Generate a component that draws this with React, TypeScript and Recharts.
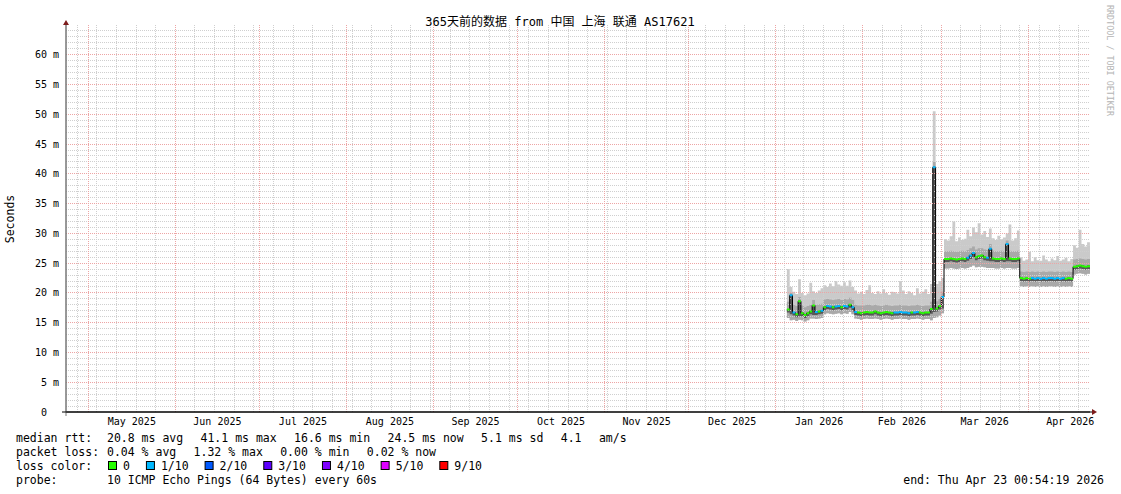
import React from 'react';
import { ComposedChart, Area, Line, XAxis, YAxis, ReferenceLine } from 'recharts';

// ---------- data ----------
const endTime = '2026-04-23T00:54:19Z';
const spanDays = 365;
const firstDataDay = '2026-01-05';

const monthStarts = [
  '2025-05-01', '2025-06-01', '2025-07-01', '2025-08-01', '2025-09-01', '2025-10-01',
  '2025-11-01', '2025-12-01', '2026-01-01', '2026-02-01', '2026-03-01', '2026-04-01', '2026-05-01',
];
const monthLabels = [
  'May 2025', 'Jun 2025', 'Jul 2025', 'Aug 2025', 'Sep 2025', 'Oct 2025',
  'Nov 2025', 'Dec 2025', 'Jan 2026', 'Feb 2026', 'Mar 2026', 'Apr 2026',
];
const firstWeekLine = '2025-04-27';
const yLabelTicks = [0, 5, 10, 15, 20, 25, 30, 35, 40, 45, 50, 55, 60];

// median rtt per day (ms), from 2026-01-05
const medianRtt = [
  17.2, 19.6, 16.7, 16.4, 18.6, 16.6, 16.3, 16.6, 16.9, 17.9, 16.8, 16.9, 17.0,
  17.6, 17.8, 17.7, 17.6, 17.7, 17.8, 17.6, 17.8, 17.7, 18.0, 17.6, 16.8,
  16.7, 16.6, 16.7, 16.8, 16.7, 16.7, 16.9, 16.7, 16.6, 16.7, 16.8, 16.7, 16.6, 16.7,
  16.7, 16.8, 16.7, 16.7, 16.6, 16.7, 16.7, 16.8, 16.7, 16.6, 16.7, 16.7, 17.3,
  41.1, 17.4, 17.8, 19.3,
  25.7, 25.7, 25.8, 25.7, 25.6, 25.7, 25.8, 25.7, 25.9, 26.3, 26.7, 26.0, 26.2, 26.3,
  26.0, 25.9, 27.4, 25.8, 25.7, 25.7, 25.8, 25.7, 28.2, 25.8, 25.7, 25.7, 25.8,
  22.5, 22.4, 22.5, 22.4, 22.5, 22.4, 22.5, 22.4, 22.5, 22.4, 22.5, 22.5, 22.4, 22.5,
  22.4, 22.5, 22.4, 22.5, 22.4,
  24.4, 24.5, 24.6, 24.5, 24.4, 24.5, 24.5,
];
// loss per day in tenths (0 = none, 1 = 1/10)
const lossTenths = [
  0, 1, 1, 0, 0, 0, 0, 0, 0, 0, 1, 0, 1,
  0, 1, 1, 0, 1, 1, 0, 1, 1, 0, 1, 1,
  0, 0, 0, 0, 0, 0, 0, 0, 0, 0, 0, 0, 0, 1,
  1, 1, 1, 1, 1, 0, 1, 1, 0, 0, 0, 0, 0,
  1, 0, 0, 1,
  0, 0, 0, 0, 0, 0, 0, 0, 1, 1, 1, 0, 0, 0,
  0, 1, 1, 0, 0, 0, 0, 0, 1, 0, 0, 0, 0,
  0, 0, 0, 0, 1, 1, 1, 1, 1, 1, 1, 1, 1, 1,
  1, 1, 0, 0, 0,
  0, 0, 0, 0, 0, 0, 0,
];
// highest ping per day
const maxRtt = [
  24.0, 21.0, 20.2, 19.8, 22.3, 20.0, 19.6, 19.9, 21.7, 20.3, 20.0, 20.4, 20.8,
  21.3, 21.0, 21.6, 21.1, 22.0, 21.4, 21.2, 21.8, 21.2, 22.1, 21.0, 20.4,
  19.9, 20.2, 19.8, 20.5, 21.3, 20.0, 19.8, 20.3, 19.9, 20.6, 20.0, 19.7, 20.2, 20.1,
  19.9, 22.0, 20.4, 19.8, 20.3, 20.0, 19.6, 20.8, 19.9, 20.2, 20.6, 19.8, 21.5,
  50.5, 21.5, 22.0, 22.5,
  29.0, 28.8, 29.5, 32.0, 28.7, 29.3, 28.9, 29.1, 30.6, 29.5, 31.0, 30.2, 31.7, 29.8,
  30.4, 29.4, 30.8, 29.2, 28.9, 29.6, 29.0, 29.3, 30.0, 31.5, 28.8, 29.2, 30.5,
  26.0, 25.4, 25.6, 26.9, 25.3, 26.0, 25.5, 25.4, 26.3, 25.6, 25.3, 25.8, 25.5, 26.2,
  25.4, 25.6, 25.9, 25.3, 25.7,
  28.0, 27.6, 30.6, 28.2, 27.8, 28.5, 27.9,
];
// upper edge of the denser smoke
const upperRtt = [
  18.5, 20.0, 18.0, 17.8, 19.3, 17.9, 17.6, 17.8, 18.0, 18.8, 18.0, 18.1, 18.2,
  18.9, 19.0, 18.9, 18.8, 18.9, 19.0, 18.8, 19.0, 18.9, 19.2, 18.8, 18.0,
  17.9, 17.9, 17.9, 18.0, 18.0, 17.9, 18.0, 17.9, 17.8, 17.9, 18.0, 17.9, 17.8, 17.9,
  17.9, 18.0, 17.9, 17.9, 17.8, 17.9, 17.9, 18.0, 17.9, 17.8, 17.9, 17.9, 18.5,
  42.0, 18.6, 19.0, 20.2,
  27.0, 27.0, 27.1, 27.0, 26.9, 27.0, 27.1, 27.0, 27.2, 27.5, 27.8, 27.3, 27.5, 27.5,
  27.3, 27.2, 28.2, 27.1, 27.0, 27.0, 27.1, 27.0, 28.8, 27.1, 27.0, 27.0, 27.1,
  23.6, 23.5, 23.6, 23.5, 23.6, 23.5, 23.6, 23.5, 23.6, 23.5, 23.6, 23.6, 23.5, 23.6,
  23.5, 23.6, 23.5, 23.6, 23.5,
  25.6, 25.7, 25.8, 25.7, 25.6, 25.7, 25.7,
];
// bottom of the dark core just under the median
const lowerRtt = [
  16.7, 16.4, 16.2, 15.9, 16.1, 16.1, 15.8, 16.1, 16.4, 16.3, 16.3, 16.4, 16.5,
  17.1, 17.3, 17.2, 17.1, 17.2, 17.3, 17.1, 17.3, 17.2, 17.5, 17.1, 16.3,
  16.2, 16.1, 16.2, 16.3, 16.2, 16.2, 16.4, 16.2, 16.1, 16.2, 16.3, 16.2, 16.1, 16.2,
  16.2, 16.3, 16.2, 16.2, 16.1, 16.2, 16.2, 16.3, 16.2, 16.1, 16.2, 16.2, 16.5,
  16.8, 16.9, 17.2, 17.4,
  25.2, 25.2, 25.3, 25.2, 25.1, 25.2, 25.3, 25.2, 25.4, 25.7, 26.0, 25.5, 25.7, 25.8,
  25.5, 25.4, 25.3, 25.3, 25.2, 25.2, 25.3, 25.2, 25.3, 25.3, 25.2, 25.2, 25.3,
  22.0, 21.9, 22.0, 21.9, 22.0, 21.9, 22.0, 21.9, 22.0, 21.9, 22.0, 22.0, 21.9, 22.0,
  21.9, 22.0, 21.9, 22.0, 21.9,
  23.9, 24.0, 24.1, 24.0, 23.9, 24.0, 24.0,
];
// lowest ping per day
const minRtt = [
  15.8, 15.4, 15.5, 15.3, 15.5, 15.4, 15.2, 15.4, 15.7, 15.7, 15.6, 15.7, 15.8,
  16.4, 16.6, 16.5, 16.4, 16.5, 16.6, 16.4, 16.6, 16.5, 16.8, 16.4, 15.7,
  15.6, 15.5, 15.6, 15.7, 15.6, 15.6, 15.7, 15.6, 15.5, 15.6, 15.7, 15.6, 15.5, 15.6,
  15.6, 15.7, 15.6, 15.6, 15.5, 15.6, 15.6, 15.7, 15.6, 15.5, 15.6, 15.6, 15.4,
  15.8, 15.9, 16.2, 16.6,
  24.1, 24.1, 24.2, 24.1, 24.0, 24.1, 24.2, 24.1, 24.2, 24.4, 24.6, 24.3, 24.4, 24.4,
  24.3, 24.2, 24.2, 24.2, 24.1, 24.1, 24.2, 24.1, 24.2, 24.2, 24.1, 24.1, 24.2,
  21.1, 21.0, 21.1, 21.0, 21.1, 21.0, 21.1, 21.0, 21.1, 21.0, 21.1, 21.1, 21.0, 21.1,
  21.0, 21.1, 21.0, 21.1, 21.0,
  23.1, 23.2, 23.3, 23.2, 23.1, 23.2, 23.2,
];

const titleText = '365天前的数据 from 中国 上海 联通 AS17621';
const statsRow1 = ['median rtt:', '20.8 ms avg', '41.1 ms max', '16.6 ms min', '24.5 ms now', '5.1 ms sd', '4.1', 'am/s'];
const statsRow2 = ['packet loss:', '0.04 % avg', '1.32 % max', '0.00 % min', '0.02 % now'];
const lossLabels = ['0', '1/10', '2/10', '3/10', '4/10', '5/10', '9/10'];
const lossColors = ['#26ff00', '#00b8ff', '#0059ff', '#5e00ff', '#7e00ff', '#dd00ff', '#ff0000'];
const probeText = '10 ICMP Echo Pings (64 Bytes) every 60s';
const endText = 'end: Thu Apr 23 00:54:19 2026';

// ---------- layout ----------
const W = 1121;
const H = 494;
const MARGIN = { top: 25, right: 31, left: 16, bottom: 52 };
const Y_AXIS_W = 50;
const X_AXIS_H = 30;
const PLOT_L = MARGIN.left + Y_AXIS_W;
const PLOT_R = W - MARGIN.right;
const PLOT_T = MARGIN.top;
const PLOT_B = H - MARGIN.bottom - X_AXIS_H;
const MONO = '"DejaVu Sans Mono", monospace';
const TITLE_FONT = '"DejaVu Sans Mono", "Noto Sans CJK SC", monospace';
const CH = 6.92; // char advance at 11.5px
const LEG_FS = 11.5;
const MAJOR_GRID = '#eda5a5';
const MINOR_GRID = '#cfcfcf';

// ---------- derived ----------
const DAY = 86400000;
const ts = (s: string) => {
  const [y, m, d] = s.split('-').map(Number);
  return Date.UTC(y, m - 1, d);
};
const END = Date.parse(endTime);
const START = END - spanDays * DAY;

const monthLines = monthStarts.slice(0, -1).map(ts);
const monthMid = monthLabels.map((_, i) => (ts(monthStarts[i]) + ts(monthStarts[i + 1])) / 2);
const weekLines: number[] = [];
for (let t = ts(firstWeekLine); t < END; t += 7 * DAY) if (!monthLines.includes(t)) weekLines.push(t);
const yMinor: number[] = [];
for (let v = 1; v < 65; v++) if (v % 5 !== 0) yMinor.push(v);
const yMajor = yLabelTicks.filter((v) => v > 0);

const rows: any[] = [];
const day0 = ts(firstDataDay);
medianRtt.forEach((m, i) => {
  const t0 = day0 + i * DAY;
  const t1 = Math.min(t0 + DAY, END);
  const common = {
    med: m,
    smoke: [minRtt[i], maxRtt[i]],
    band: [minRtt[i], upperRtt[i]],
    core: [lowerRtt[i], m],
  };
  const colored = {
    green: lossTenths[i] === 0 ? m : null,
    cyan: lossTenths[i] === 1 ? m : null,
  };
  rows.push({ t: t0, ...common, ...colored });
  rows.push({ t: t1, ...common, ...colored });
  rows.push({ t: t1, ...common, green: null, cyan: null });
});

const XTick = (props: any) => {
  const { x, y, payload } = props;
  const idx = monthMid.indexOf(payload.value);
  return (
    <text x={x} y={y} dy="0.71em" textAnchor="middle" fontSize={10} fontFamily={MONO} fill="#000">
      {monthLabels[idx]}
    </text>
  );
};

const YTick = (props: any) => {
  const { x, y, payload } = props;
  const v = payload.value;
  return (
    <text x={v === 0 ? x - 12 : x} y={y} dy="0.35em" textAnchor="end" fontSize={10} fontFamily={MONO} fill="#000">
      {v === 0 ? '0' : `${v} m`}
    </text>
  );
};

function cumulative(items: string[], x0: number, firstGap: number, gap: number) {
  const xs: number[] = [];
  let x = x0;
  items.forEach((s, i) => {
    xs.push(x);
    x += s.length * CH + (i === 0 ? firstGap : gap);
  });
  return xs;
}

const gridProps = { strokeDasharray: '1 1', ifOverflow: 'hidden' as const, shapeRendering: 'crispEdges' };

export default function App() {
  const row1X = cumulative(statsRow1, 16, 91 - statsRow1[0].length * CH, 17.4);
  const row2X = cumulative(statsRow2, 16, 91 - statsRow2[0].length * CH, 17.4);
  const boxes: { bx: number; lx: number }[] = [];
  let bx = 108;
  lossLabels.forEach((l) => {
    boxes.push({ bx, lx: bx + 15 });
    bx = bx + 15 + l.length * CH + 16;
  });
  const rowY = [442, 456, 470, 484];

  return (
    <div style={{ position: 'absolute', left: 0, top: 0, width: W, height: H, background: '#fff' }}>
      <ComposedChart width={W} height={H} data={rows} margin={MARGIN}>
        <XAxis
          dataKey="t"
          type="number"
          domain={[START, END]}
          allowDataOverflow
          ticks={monthMid}
          interval={0}
          tick={<XTick />}
          tickLine={false}
          tickSize={0}
          tickMargin={6}
          height={X_AXIS_H}
          axisLine={{ stroke: '#000' }}
        />
        <YAxis
          type="number"
          domain={[0, 65]}
          allowDataOverflow
          ticks={yLabelTicks}
          interval={0}
          tick={<YTick />}
          tickLine={false}
          tickSize={0}
          tickMargin={7}
          width={Y_AXIS_W}
          axisLine={{ stroke: '#777' }}
        />
        {yMinor.map((v) => (
          <ReferenceLine key={'ny' + v} y={v} stroke={MINOR_GRID} {...gridProps} />
        ))}
        {weekLines.map((t) => (
          <ReferenceLine key={'wx' + t} x={t} stroke={MINOR_GRID} {...gridProps} />
        ))}
        <Area dataKey="smoke" type="linear" stroke="none" fill="#cacaca" fillOpacity={1} isAnimationActive={false} />
        <Area dataKey="band" type="linear" stroke="none" fill="#a9a9a9" fillOpacity={1} isAnimationActive={false} />
        <Area dataKey="core" type="linear" stroke="none" fill="#585858" fillOpacity={1} isAnimationActive={false} />
        <Line dataKey="med" type="linear" stroke="#000" strokeWidth={1} dot={false} activeDot={false} isAnimationActive={false} />
        <Line dataKey="green" type="linear" stroke="#26ff00" strokeWidth={2} dot={false} activeDot={false} isAnimationActive={false} />
        <Line dataKey="cyan" type="linear" stroke="#00b8ff" strokeWidth={2} dot={false} activeDot={false} isAnimationActive={false} />
        {yMajor.map((v) => (
          <ReferenceLine key={'hy' + v} y={v} stroke={MAJOR_GRID} {...gridProps} />
        ))}
        {monthLines.map((t) => (
          <ReferenceLine key={'mx' + t} x={t} stroke={MAJOR_GRID} {...gridProps} />
        ))}
      </ComposedChart>

      <svg
        width={W}
        height={H}
        style={{ position: 'absolute', left: 0, top: 0, pointerEvents: 'none' }}
      >
        {/* axis extensions and arrows */}
        <line x1={PLOT_L} y1={PLOT_B + 4} x2={PLOT_L} y2={PLOT_T - 3} stroke="#777" strokeWidth={1} />
        <line x1={PLOT_L - 4} y1={PLOT_B} x2={PLOT_R + 4} y2={PLOT_B} stroke="#000" strokeWidth={1} />
        <polygon
          points={`${PLOT_L - 3},${PLOT_T} ${PLOT_L + 3},${PLOT_T} ${PLOT_L},${PLOT_T - 5}`}
          fill="#7d1c1c"
        />
        <polygon
          points={`${PLOT_R + 2},${PLOT_B - 3} ${PLOT_R + 2},${PLOT_B + 3} ${PLOT_R + 7},${PLOT_B}`}
          fill="#7d1c1c"
        />

        {/* title */}
        <text x={560} y={25.5} textAnchor="middle" fontSize={12} fontFamily={TITLE_FONT} fill="#000">
          {titleText}
        </text>

        {/* y label */}
        <text
          x={0}
          y={0}
          transform="translate(14,219) rotate(-90)"
          textAnchor="middle"
          fontSize={11.5}
          fontFamily={MONO}
          fill="#000"
        >
          Seconds
        </text>

        {/* watermark */}
        <text
          x={0}
          y={0}
          transform="translate(1107,5) rotate(90)"
          textAnchor="start"
          fontSize={8.4}
          fontFamily={MONO}
          fill="#b4b4b4"
        >
          RRDTOOL / TOBI OETIKER
        </text>

        {/* legend rows */}
        {statsRow1.map((s, i) => (
          <text key={'r1' + i} x={row1X[i]} y={rowY[0]} fontSize={LEG_FS} fontFamily={MONO} fill="#000">
            {s}
          </text>
        ))}
        {statsRow2.map((s, i) => (
          <text key={'r2' + i} x={row2X[i]} y={rowY[1]} fontSize={LEG_FS} fontFamily={MONO} fill="#000">
            {s}
          </text>
        ))}
        <text x={16} y={rowY[2]} fontSize={LEG_FS} fontFamily={MONO} fill="#000">
          loss color:
        </text>
        {boxes.map((b, i) => (
          <g key={'lc' + i}>
            <rect x={b.bx + 0.5} y={rowY[2] - 8.5} width={8} height={8} fill={lossColors[i]} stroke="#000" strokeWidth={1} />
            <text x={b.lx} y={rowY[2]} fontSize={LEG_FS} fontFamily={MONO} fill="#000">
              {lossLabels[i]}
            </text>
          </g>
        ))}
        <text x={16} y={rowY[3]} fontSize={LEG_FS} fontFamily={MONO} fill="#000">
          probe:
        </text>
        <text x={107} y={rowY[3]} fontSize={LEG_FS} fontFamily={MONO} fill="#000">
          {probeText}
        </text>
        <text x={1104} y={rowY[3]} textAnchor="end" fontSize={LEG_FS} fontFamily={MONO} fill="#000">
          {endText}
        </text>
      </svg>
    </div>
  );
}
